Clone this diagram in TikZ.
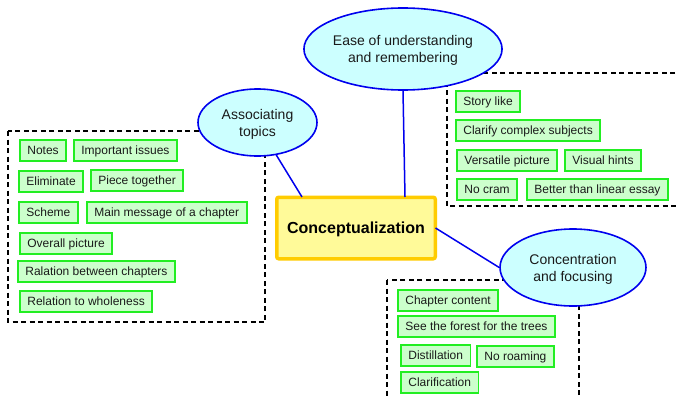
\documentclass[tikz,border=0pt]{standalone}
\usepackage{fontspec}
\setmainfont{Liberation Sans}
\usetikzlibrary{shapes.geometric}
\definecolor{ellfill}{HTML}{CCFFFF}
\definecolor{ellline}{HTML}{0000EE}
\definecolor{gfill}{HTML}{CCFFCC}
\definecolor{gline}{HTML}{22EE22}
\definecolor{cfill}{HTML}{FFFA99}
\definecolor{cline}{HTML}{FFCC00}
\definecolor{txt}{HTML}{1A1A1A}
\begin{document}
\begin{tikzpicture}[x=1pt,y=-1pt,
 gbox/.style={draw=gline, fill=gfill, line width=1.8pt, anchor=north west, minimum height=21.2pt, inner xsep=7.5pt, inner ysep=0pt, text height=8.6pt, text depth=0pt, font=\fontsize{12}{14}\selectfont, text=txt},
 topic/.style={ellipse, draw=ellline, fill=ellfill, line width=1.6pt, inner sep=0pt, align=center, text depth=0pt, font=\fontsize{14}{17}\selectfont, text=txt},
 groupbox/.style={draw=black, line width=1.3pt, dash pattern=on 5pt off 3.5pt},
 link/.style={draw=ellline, line width=1.5pt},
 core/.style={draw=cline, fill=cfill, line width=3.5pt, rounded corners=2pt, minimum width=158.5pt, minimum height=61.5pt, text height=11.5pt, text depth=0pt, font=\fontsize{16}{19}\selectfont\bfseries, text=black}]
\useasboundingbox (0,0) rectangle (679,396);
\clip (0,0) rectangle (679,396);
\fill[white] (0,0) rectangle (679,396);

% group frames
\draw[groupbox] (8,131) rectangle (265,322);
\draw[groupbox] (447,73) rectangle (700,206);
\draw[groupbox] (387,280) rectangle (579,420);

% left group
\node[gbox] (notes) at (19,139) {Notes};
\node[gbox] (imp) at (73,139) {Important issues};
\node[gbox] (elim) at (18,170) {Eliminate};
\node[gbox] (piece) at (90,169) {Piece together};
\node[gbox] (scheme) at (18,201) {Scheme};
\node[gbox] (mainmsg) at (86,201) {Main message of a chapter};
\node[gbox] (overall) at (19,232) {Overall picture};
\node[gbox] (ralation) at (17,260) {Ralation between chapters};
\node[gbox] (whole) at (19,290) {Relation to wholeness};

% right group
\node[gbox] (story) at (455,90) {Story like};
\node[gbox] (clarify) at (455,119) {Clarify complex subjects};
\node[gbox] (versatile) at (456,149) {Versatile picture};
\node[gbox] (visual) at (564,149) {Visual hints};
\node[gbox] (nocram) at (456,178) {No cram};
\node[gbox] (better) at (526,178) {Better than linear essay};

% bottom group
\node[gbox] (chapter) at (397,289) {Chapter content};
\node[gbox] (forest) at (397,315) {See the forest for the trees};
\node[gbox] (distill) at (400,344) {Distillation};
\node[gbox] (roaming) at (476,345) {No roaming};
\node[gbox] (clarif) at (400,371) {Clarification};

% main nodes
\node[core] (cpt) at (356,228) {Conceptualization};
\node[topic, minimum width=192pt, minimum height=82pt] (ease) at (403,49) {Ease of understanding\\and remembering};
\node[topic, minimum width=119pt, minimum height=67pt] (assoc) at (257.5,122.5) {Associating\\topics};
\node[topic, minimum width=146pt, minimum height=77pt] (conc) at (573,267.5) {Concentration\\and focusing};

% connectors
\draw[link] (assoc.-60) -- ([xshift=27pt,yshift=-1.5pt]cpt.north west);
\draw[link] (ease.south) -- ([xshift=49pt,yshift=-1.5pt]cpt.north);
\draw[link] ([xshift=-1.5pt]cpt.east) -- (conc.west);
\end{tikzpicture}
\end{document}
